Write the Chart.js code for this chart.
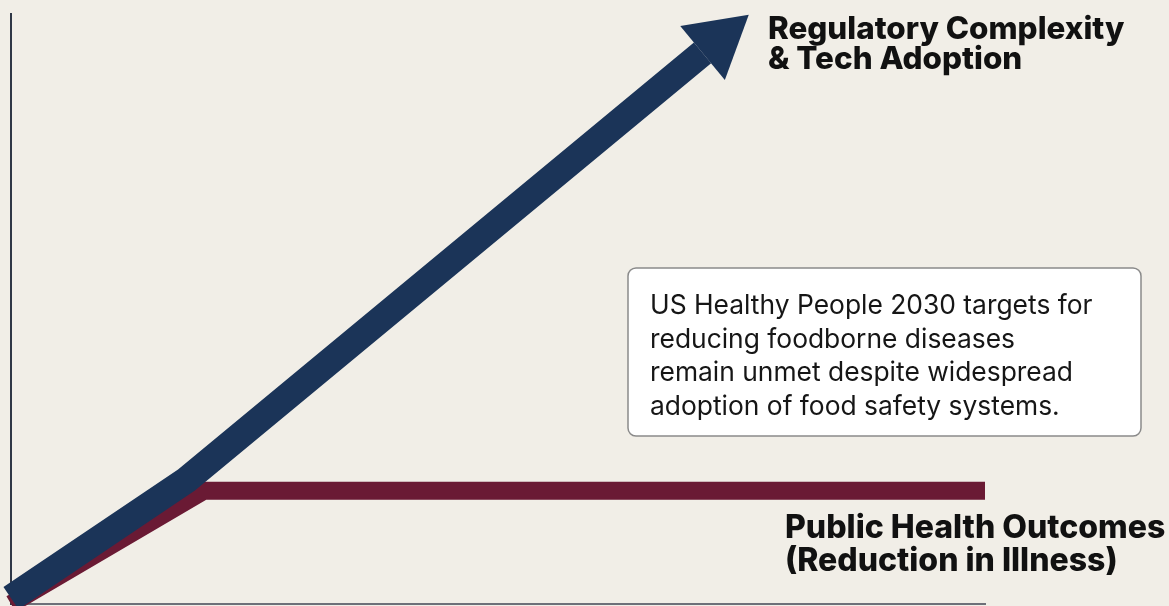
<!DOCTYPE html>
<html lang="en">
  <head>
    <meta charset="utf-8" />
    <script src="https://cdn.jsdelivr.net/npm/chart.js@4.4.0/dist/chart.umd.min.js"></script>
    <style>
      html, body { margin: 0; padding: 0; background: #f1eee7; }
      #wrap { width: 1169px; height: 606px; position: relative; }
    </style>
    <title>Regulation vs outcomes</title>
  </head>
  <body>
    <div id="wrap"><canvas id="myChart"></canvas></div>
    <script>
      // conceptual chart, values in arbitrary units (0-100)
      const techX = [0, 18, 71];
      const techY = [1, 21, 93.4];
      const healthX = [0, 19.8, 100];
      const healthY = [0, 19.2, 19.2];

      const techLabel = ["Regulatory Complexity", "& Tech Adoption"];
      const healthLabel = ["Public Health Outcomes", "(Reduction in Illness)"];
      const noteLines = [
        "US Healthy People 2030 targets for",
        "reducing foodborne diseases",
        "remain unmet despite widespread",
        "adoption of food safety systems.",
      ];

      const NAVY = "#1b3458";
      const MAROON = "#6a1a34";
      const FAMILY = "Inter, 'Liberation Sans', sans-serif";

      const toPts = (xs, ys) => xs.map((x, i) => ({ x: x, y: ys[i] }));

      // pick a font size so a line of text spans the wanted width
      function fitFont(c, weight, text, width) {
        c.font = weight + " 20px " + FAMILY;
        const size = (20 * width) / c.measureText(text).width;
        c.font = weight + " " + size.toFixed(1) + "px " + FAMILY;
      }

      // arrow head on the end of the first dataset + text annotations
      const extras = {
        id: "extras",
        afterDatasetsDraw(chart) {
          const c = chart.ctx;
          const meta = chart.getDatasetMeta(0);
          const pts = meta.data;
          const a = pts[pts.length - 2], b = pts[pts.length - 1];
          const dx = b.x - a.x, dy = b.y - a.y;
          const len = Math.hypot(dx, dy);
          const ux = dx / len, uy = dy / len;
          const head = 60, half = 35;
          c.save();
          c.fillStyle = NAVY;
          c.beginPath();
          c.moveTo(b.x + ux * head, b.y + uy * head);
          c.lineTo(b.x - uy * half, b.y + ux * half);
          c.lineTo(b.x + uy * half, b.y - ux * half);
          c.closePath();
          c.fill();

          // labels
          c.fillStyle = "#111";
          c.textBaseline = "alphabetic";
          fitFont(c, "800", techLabel[0], 357);
          c.fillText(techLabel[0], 768, 39);
          c.fillText(techLabel[1], 768, 69);
          fitFont(c, "800", healthLabel[0], 380);
          c.fillText(healthLabel[0], 785, 538);
          c.fillText(healthLabel[1], 785, 571);

          // note box
          const bx = 628, by = 268, bw = 513, bh = 168, r = 8;
          c.beginPath();
          c.roundRect(bx, by, bw, bh, r);
          c.fillStyle = "#ffffff";
          c.fill();
          c.lineWidth = 1.5;
          c.strokeStyle = "#8a8a8a";
          c.stroke();
          c.fillStyle = "#161616";
          fitFont(c, "400", noteLines[0], 443);
          noteLines.forEach((t, i) => c.fillText(t, 650, 314 + i * 33.5));
          c.restore();
        },
      };

      const ctx = document.getElementById("myChart").getContext("2d");
      const myChart = new Chart(ctx, {
        type: "line",
        data: {
          datasets: [
            {
              label: "Regulatory Complexity & Tech Adoption",
              data: toPts(techX, techY),
              borderColor: NAVY,
              borderWidth: 27,
              borderCapStyle: "butt",
              borderJoinStyle: "round",
              pointRadius: 0,
              tension: 0,
              clip: false,
            },
            {
              label: "Public Health Outcomes",
              data: toPts(healthX, healthY),
              borderColor: MAROON,
              borderWidth: 18,
              borderCapStyle: "butt",
              borderJoinStyle: "round",
              pointRadius: 0,
              tension: 0,
              clip: false,
            },
          ],
        },
        options: {
          responsive: true,
          maintainAspectRatio: false,
          animation: false,
          layout: { padding: { left: 11, top: 14, right: 184, bottom: 2 } },
          plugins: { legend: { display: false }, tooltip: { enabled: false } },
          scales: {
            x: {
              type: "linear",
              min: 0,
              max: 100,
              grid: { display: false, drawTicks: false },
              ticks: { display: false },
              border: { color: "#6d7079", width: 2 },
            },
            y: {
              type: "linear",
              min: 0,
              max: 100,
              grid: { display: false, drawTicks: false },
              ticks: { display: false },
              border: { color: "#2f3746", width: 2 },
            },
          },
        },
        plugins: [extras],
      });
    </script>
  </body>
</html>
